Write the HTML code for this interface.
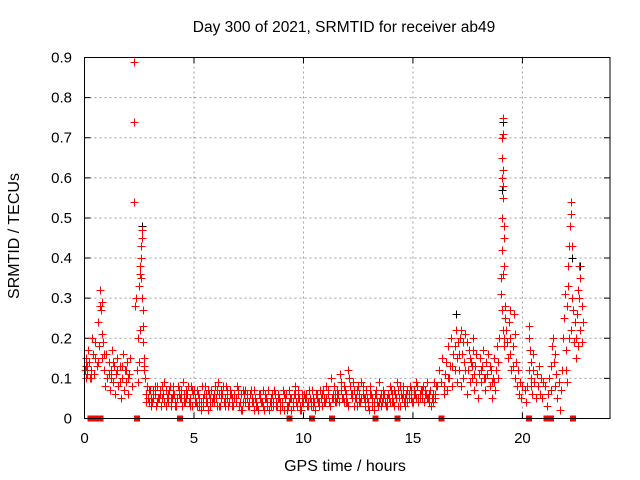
<!DOCTYPE html>
<html><head><meta charset="utf-8"><style>
body{margin:0;background:#fff}
svg{display:block;font-family:"Liberation Sans",sans-serif}
</style></head><body>
<svg id="chart" width="640" height="480" viewBox="0 0 640 480" xmlns="http://www.w3.org/2000/svg">
<rect x="0" y="0" width="640" height="480" fill="#fff"/>
<text x="344" y="32" font-size="15.5" text-anchor="middle">Day 300 of 2021, SRMTID for receiver ab49</text>
<text transform="translate(19,236) rotate(-90)" font-size="16" text-anchor="middle">SRMTID / TECUs</text>
<text x="345" y="471" font-size="16" text-anchor="middle">GPS time / hours</text>
<g id="grid"></g>
<g id="ticks"></g>
<g id="marks" shape-rendering="crispEdges"></g>
<rect x="84.5" y="57.5" width="525.5" height="361" fill="none" stroke="#000" stroke-width="1"/>
</svg>
<script>
const xTicks = [0,5,10,15,20];
const yTicks = [0,0.1,0.2,0.3,0.4,0.5,0.6,0.7,0.8,0.9];
const yTickLabels = ["0","0.1","0.2","0.3","0.4","0.5","0.6","0.7","0.8","0.9"];
const earlyPoints = [[0.02,0.12],[0.05,0.1],[0.08,0.15],[0.1,0.11],[0.12,0.13],[0.15,0.17],[0.2,0.14],[0.25,0.1],[0.3,0.12],[0.35,0.2],[0.4,0.16],[0.45,0.11],[0.5,0.19],[0.55,0.13],[0.6,0.24],[0.65,0.18],[0.7,0.28],[0.72,0.32],[0.75,0.27],[0.78,0.29],[0.8,0.21],[0.82,0.15],[0.85,0.19],[0.9,0.12],[0.95,0.08],[1.0,0.16],[1.05,0.1],[1.1,0.14],[1.15,0.07],[1.2,0.12],[1.25,0.17],[1.3,0.09],[1.35,0.13],[1.4,0.06],[1.45,0.11],[1.5,0.15],[1.55,0.08],[1.6,0.13],[1.65,0.05],[1.7,0.1],[1.75,0.16],[1.8,0.07],[1.85,0.12],[1.9,0.09],[1.95,0.14],[2.0,0.06],[2.05,0.11],[2.1,0.15],[2.15,0.08],[0.3,0.1],[0.6,0.14],[1.2,0.1],[1.5,0.12],[1.7,0.13],[2.0,0.1],[0.9,0.16],[1.1,0.11],[1.3,0.14],[1.6,0.09],[1.9,0.12],[0.05,0.13],[0.5,0.15],
[2.25,0.89],[2.27,0.74],[2.28,0.54],[2.3,0.28],[2.35,0.3],[2.45,0.2],[2.5,0.33],[2.52,0.36],[2.55,0.38],[2.58,0.4],[2.6,0.43],[2.62,0.45],[2.63,0.47],[2.6,0.35],[2.62,0.3],[2.65,0.27],[2.66,0.23],[2.68,0.19],[2.7,0.15],[2.7,0.13],[2.72,0.12],[2.75,0.1],[2.55,0.22],[2.5,0.14],[2.45,0.09],[2.4,0.12]];
const bandT = [];
for (let i = 0; i <= 132; i++) bandT.push(+(2.8 + i*0.1).toFixed(2));
const bandA = [0.06,0.05,0.07,0.04,0.06,0.08,0.05,0.03,0.06,0.07,0.04,0.08,0.05,0.06,0.03,0.07,0.05,0.09,0.04,0.06,0.05,0.03,0.07,0.04,0.06,0.02,0.05,0.08,0.04,0.06,0.07,0.04,0.05,0.09,0.03,0.06,0.05,0.07,0.04,0.06,0.03,0.05,0.07,0.04,0.02,0.06,0.05,0.03,0.07,0.04,0.05,0.03,0.06,0.04,0.02,0.05,0.07,0.03,0.04,0.06,0.03,0.05,0.04,0.02,0.06,0.03,0.05,0.04,0.08,0.03,0.05,0.02,0.04,0.06,0.03,0.05,0.07,0.04,0.06,0.03,0.05,0.07,0.04,0.06,0.03,0.05,0.08,0.04,0.06,0.09,0.05,0.07,0.04,0.1,0.06,0.03,0.05,0.08,0.04,0.06,0.03,0.05,0.02,0.06,0.04,0.07,0.03,0.05,0.04,0.06,0.03,0.05,0.07,0.04,0.06,0.03,0.08,0.05,0.04,0.06,0.05,0.07,0.04,0.06,0.08,0.05,0.07,0.04,0.06,0.05,0.07,0.04,0.06];
const bandB = [0.08,0.04,0.05,0.07,0.03,0.05,0.06,0.08,0.04,0.05,0.07,0.03,0.06,0.04,0.08,0.05,0.03,0.06,0.07,0.04,0.08,0.06,0.04,0.07,0.03,0.08,0.06,0.04,0.07,0.03,0.05,0.08,0.03,0.06,0.07,0.04,0.08,0.03,0.06,0.05,0.06,0.08,0.03,0.06,0.07,0.04,0.03,0.06,0.04,0.07,0.03,0.06,0.04,0.07,0.05,0.03,0.04,0.06,0.07,0.03,0.06,0.02,0.07,0.05,0.03,0.07,0.02,0.06,0.04,0.07,0.03,0.06,0.05,0.03,0.07,0.04,0.03,0.06,0.04,0.07,0.03,0.05,0.08,0.04,0.1,0.06,0.04,0.07,0.11,0.05,0.08,0.04,0.12,0.06,0.09,0.05,0.07,0.04,0.09,0.05,0.07,0.04,0.08,0.03,0.06,0.04,0.09,0.06,0.07,0.03,0.06,0.08,0.04,0.07,0.09,0.05,0.06,0.08,0.03,0.07,0.08,0.04,0.06,0.09,0.05,0.07,0.08,0.06,0.09,0.04,0.05,0.09,0.08];
const bandC = [0.04,0.07,0.03,0.05,0.08,0.04,0.07,0.05,0.09,0.03,0.06,0.05,0.08,0.03,0.05,0.06,0.07,0.04,0.05,0.08,0.03,0.07,0.05,0.03,0.05,0.04,0.03,0.06,0.02,0.05,0.04,0.06,0.07,0.03,0.05,0.08,0.03,0.05,0.07,0.03,0.05,0.04,0.06,0.02,0.04,0.07,0.06,0.04,0.05,0.02,0.04,0.02,0.05,0.03,0.06,0.04,0.02,0.05,0.03,0.04,0.05,0.04,0.03,0.06,0.02,0.04,0.05,0.03,0.06,0.05,0.02,0.04,0.06,0.05,0.04,0.03,0.05,0.02,0.05,0.04,0.06,0.04,0.05,0.07,0.03,0.05,0.06,0.05,0.04,0.07,0.04,0.06,0.03,0.08,0.05,0.07,0.03,0.06,0.05,0.08,0.05,0.03,0.06,0.05,0.02,0.06,0.04,0.03,0.05,0.04,0.05,0.04,0.06,0.03,0.05,0.07,0.03,0.06,0.05,0.04,0.06,0.05,0.07,0.05,0.04,0.06,0.05,0.07,0.05,0.06,0.03,0.06,0.05];
const latePoints = [[16.1,0.08],[16.2,0.12],[16.3,0.09],[16.35,0.15],[16.4,0.06],[16.45,0.11],[16.5,0.14],[16.55,0.07],[16.6,0.18],[16.65,0.1],[16.7,0.13],[16.75,0.2],[16.8,0.08],[16.85,0.16],[16.9,0.12],[16.95,0.22],[17.0,0.09],[17.0,0.15],
[17.05,0.19],[17.1,0.12],[17.15,0.2],[17.2,0.08],[17.25,0.16],[17.3,0.1],[17.35,0.14],[17.4,0.21],[17.45,0.06],[17.5,0.12],[17.55,0.17],[17.6,0.09],[17.65,0.14],[17.7,0.1],[17.75,0.2],[17.8,0.07],[17.85,0.13],[17.9,0.16],[17.95,0.05],[18.0,0.11],[17.2,0.22],[17.45,0.19],[17.75,0.17],[17.9,0.09],
[18.05,0.15],[18.1,0.09],[18.15,0.13],[18.2,0.17],[18.25,0.1],[18.3,0.07],[18.35,0.14],[18.4,0.11],[18.45,0.16],[18.5,0.08],[18.55,0.12],[18.6,0.05],[18.65,0.1],[18.7,0.15],[18.75,0.07],[18.8,0.12],[18.85,0.18],[18.9,0.1],[18.95,0.2],[18.5,0.13],[18.7,0.09],
[16.6,0.1],[16.8,0.13],[17.1,0.16],[17.4,0.12],[17.6,0.15],[17.8,0.11],[18.1,0.12],[18.3,0.1],[18.6,0.09],[18.9,0.14],[16.4,0.08],[16.9,0.18],[17.3,0.19],[17.7,0.13],
[19.0,0.31],[19.02,0.35],[19.05,0.5],[19.05,0.6],[19.07,0.65],[19.08,0.7],[19.1,0.75],[19.1,0.71],[19.12,0.62],[19.13,0.58],[19.12,0.55],[19.15,0.48],[19.14,0.45],[19.17,0.38],[19.13,0.36],[19.08,0.42],[19.05,0.27],[19.1,0.22],[19.15,0.2],[19.2,0.28],[19.22,0.25],[19.25,0.22],[19.18,0.18],[19.3,0.19],
[19.35,0.15],[19.4,0.24],[19.42,0.27],[19.45,0.2],[19.5,0.12],[19.55,0.18],[19.6,0.26],[19.65,0.1],[19.7,0.14],[19.75,0.08],[19.8,0.12],[19.85,0.06],[19.9,0.09],[19.95,0.05],[20.0,0.08],[19.45,0.16],[19.55,0.13],[19.65,0.21],
[20.1,0.07],[20.15,0.04],[20.2,0.08],[20.3,0.2],[20.32,0.23],[20.35,0.17],[20.38,0.1],[20.4,0.14],[20.45,0.06],[20.5,0.12],[20.55,0.09],[20.6,0.05],[20.65,0.11],[20.7,0.08],[20.75,0.13],[20.8,0.06],[20.85,0.1],[20.9,0.05],[20.95,0.09],[20.3,0.12],[20.4,0.08],[20.5,0.16],
[21.05,0.08],[21.1,0.03],[21.15,0.06],[21.2,0.1],[21.3,0.13],[21.35,0.18],[21.4,0.2],[21.45,0.14],[21.5,0.08],[21.55,0.11],[21.6,0.05],[21.65,0.09],[21.7,0.02],[21.75,0.07],[21.8,0.12],[21.85,0.2],[21.9,0.25],[21.95,0.31],[21.3,0.07],[21.5,0.16],
[22.0,0.17],[22.05,0.28],[22.1,0.33],[22.1,0.38],[22.15,0.43],[22.17,0.48],[22.2,0.51],[22.22,0.54],[22.25,0.43],[22.2,0.22],[22.25,0.3],[22.3,0.27],[22.35,0.19],[22.4,0.24],[22.45,0.15],[22.5,0.26],[22.55,0.32],[22.6,0.38],[22.62,0.35],[22.65,0.22],[22.7,0.28],[22.72,0.19],[22.75,0.24],[22.55,0.18],[22.45,0.2],[22.6,0.3],[22.15,0.2],[22.0,0.12],[22.05,0.09]];
const blackPoints = [[2.62,0.48],[19.1,0.74],[19.05,0.57],[22.2,0.54],[22.25,0.4],[22.65,0.38],[16.95,0.26]];
const gapTimes = [0.27,0.45,0.73,2.4,4.36,9.36,10.4,11.3,13.3,14.3,16.3,20.3,21.1,21.3,22.3];

const NS = "http://www.w3.org/2000/svg";
const X0 = 84.5, X1 = 610, Y0 = 418.5, Y1 = 57.5;
const xMin = 0, xMax = 24, yMin = 0, yMax = 0.9;
function xs(t){ return X0 + (t - xMin) / (xMax - xMin) * (X1 - X0); }
function ys(v){ return Y0 - (v - yMin) / (yMax - yMin) * (Y0 - Y1); }
function mk(tag, attrs, parent){ const e = document.createElementNS(NS, tag); for (const k in attrs) e.setAttribute(k, attrs[k]); parent.appendChild(e); return e; }

const grid = document.getElementById('grid');
const ticks = document.getElementById('ticks');
const marks = document.getElementById('marks');

xTicks.forEach(t => {
  const x = xs(t);
  if (t > xMin) {
    const g = mk('line', {x1:x, y1:Y0, x2:x, y2:Y1, stroke:'#a0a0a0', 'stroke-dasharray':'2,3', 'stroke-width':1}, grid);
    
    
  }
  const tk = mk('path', {d:`M${x},${Y0}v-6M${x},${Y1}v6`, stroke:'#000', 'stroke-width':1}, ticks);
  
  
  const lb = mk('text', {x:x, y:443, 'font-size':15, 'text-anchor':'middle'}, ticks);
  lb.textContent = String(t);
  
  
});
yTicks.forEach((v, i) => {
  const y = ys(v);
  if (v > yMin && v < yMax) {
    const g = mk('line', {x1:X0, y1:y, x2:X1, y2:y, stroke:'#a0a0a0', 'stroke-dasharray':'2,3', 'stroke-width':1}, grid);
    
    
  }
  const tk = mk('path', {d:`M${X0},${y}h6M${X1},${y}h-6`, stroke:'#000', 'stroke-width':1}, ticks);
  
  
  const lb = mk('text', {x:72, y:y+5, 'font-size':15, 'text-anchor':'end'}, ticks);
  lb.textContent = yTickLabels[i];
  
  
});

function plus(t, v, color){
  const x = Math.round(xs(t)) + 0.5, y = Math.round(ys(v)) + 0.5;
  const p = mk('path', {d:`M${x-4},${y}h8M${x},${y-4}v8`, stroke:color, 'stroke-width':1, fill:'none'}, marks);
  
  
}
blackPoints.forEach(p => plus(p[0], p[1], '#000'));
earlyPoints.forEach(p => plus(p[0], p[1], 'red'));
bandT.forEach((t, i) => {
  if (bandA[i] !== undefined) plus(t, bandA[i], 'red');
  if (bandB[i] !== undefined) plus(t + 0.05, bandB[i], 'red');
  if (bandC[i] !== undefined) plus(t + 0.03, bandC[i], 'red');
});
latePoints.forEach(p => plus(p[0], p[1], 'red'));
gapTimes.forEach(t => {
  const r = mk('rect', {x:xs(t)-3, y:Y0-3, width:6, height:6, fill:'red'}, marks);
  
  
});
</script>
</body></html>
